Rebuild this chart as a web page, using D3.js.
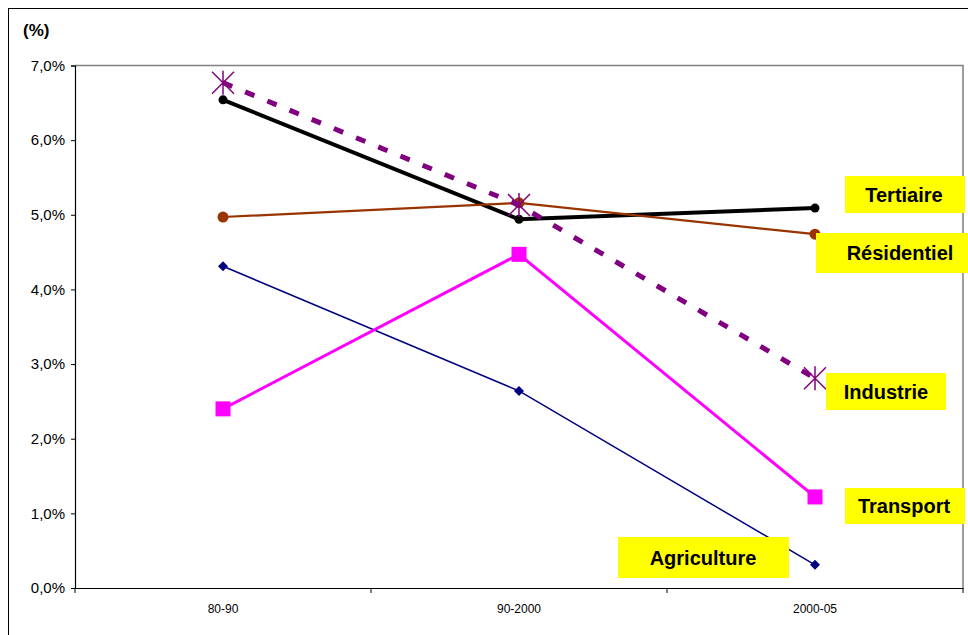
<!DOCTYPE html>
<html><head><meta charset="utf-8">
<script src="https://cdn.jsdelivr.net/npm/d3@7"></script>
<style>body{margin:0;background:#fff}svg{display:block;font-family:"Liberation Sans",Arial,sans-serif}</style>
</head><body>
<svg id="c" width="968" height="635"></svg>
<script>
const categories = ["80-90", "90-2000", "2000-05"];
const yTicks = [0, 1, 2, 3, 4, 5, 6, 7];
const agriculture = [4.31, 2.64, 0.31];
const transport = [2.40, 4.47, 1.22];
const tertiaire = [6.54, 4.94, 5.09];
const residentiel = [4.97, 5.16, 4.74];
const industrie = [6.77, 5.13, 2.81];
const seriesNames = ["Agriculture", "Transport", "Tertiaire", "Résidentiel", "Industrie"];

(function () {
const svg = d3.select("#c");
const pLeft = 75, pRight = 963, pTop = 65.5, pBottom = 588;
const x = d3.scaleBand().domain(categories).range([pLeft, pRight]);
const y = d3.scaleLinear().domain([0, 7]).range([pBottom, pTop]);
const cx = c => x(c) + x.bandwidth() / 2;

// outer frame
svg.append("rect").attr("x", 8.5).attr("y", 8.5).attr("width", 1000).attr("height", 1000)
  .attr("fill", "none").attr("stroke", "#000").attr("stroke-width", 1);

// plot area gray border (top/right)
svg.append("path").attr("d", `M${pLeft},${pTop}H${pRight}V${pBottom}`).attr("fill", "none")
  .attr("stroke", "#808080").attr("stroke-width", 1.5);

// y axis
const yAxis = d3.axisLeft(y).tickValues(yTicks).tickSize(4).tickPadding(6)
  .tickFormat(d => d3.format(".1f")(d).replace(".", ",") + "%");
const gy = svg.append("g").attr("transform", `translate(${pLeft},0)`).call(yAxis);
gy.select(".domain").attr("stroke", "#000").attr("stroke-width", 1.2);
gy.selectAll(".tick line").attr("stroke", "#000");
gy.selectAll("text").attr("font-size", 15).attr("fill", "#000").attr("font-family", "Liberation Sans, Arial, sans-serif");

// x axis
const gx = svg.append("g").attr("transform", `translate(0,${pBottom})`)
  .call(d3.axisBottom(x).tickSize(0).tickPadding(16));
gx.select(".domain").attr("stroke", "#000").attr("stroke-width", 1.2);
gx.selectAll("text").attr("font-size", 12).attr("fill", "#000").attr("font-family", "Liberation Sans, Arial, sans-serif");
const bounds = categories.map(c => x(c)).concat([x(categories[categories.length - 1]) + x.bandwidth()]);
svg.selectAll(".xb").data(bounds).enter().append("line")
  .attr("x1", d => d).attr("x2", d => d).attr("y1", pBottom).attr("y2", pBottom + 5)
  .attr("stroke", "#000").attr("stroke-width", 1);

// title
svg.append("text").attr("x", 23).attr("y", 36).attr("font-size", 17).attr("font-weight", "bold").text("(%)");

const line = d3.line().x((d, i) => cx(categories[i])).y(d => y(d));
const pts = vals => vals.map((v, i) => [cx(categories[i]), y(v)]);

// Agriculture
svg.append("path").datum(agriculture).attr("d", line).attr("fill", "none").attr("stroke", "#000080").attr("stroke-width", 1.5);
svg.selectAll(".ag").data(pts(agriculture)).enter().append("path")
  .attr("d", d => `M${d[0]},${d[1]-5}L${d[0]+5},${d[1]}L${d[0]},${d[1]+5}L${d[0]-5},${d[1]}Z`).attr("fill", "#000080");

// Transport
svg.append("path").datum(transport).attr("d", line).attr("fill", "none").attr("stroke", "#FF00FF").attr("stroke-width", 3);
svg.selectAll(".tr").data(pts(transport)).enter().append("rect")
  .attr("x", d => d[0] - 7.5).attr("y", d => d[1] - 7.5).attr("width", 15).attr("height", 15).attr("fill", "#FF00FF");

// Tertiaire
svg.append("path").datum(tertiaire).attr("d", line).attr("fill", "none").attr("stroke", "#000").attr("stroke-width", 4);
svg.selectAll(".te").data(pts(tertiaire)).enter().append("circle")
  .attr("cx", d => d[0]).attr("cy", d => d[1]).attr("r", 4.5).attr("fill", "#000");

// Résidentiel
svg.append("path").datum(residentiel).attr("d", line).attr("fill", "none").attr("stroke", "#993300").attr("stroke-width", 2.2);
svg.selectAll(".re").data(pts(residentiel)).enter().append("circle")
  .attr("cx", d => d[0]).attr("cy", d => d[1]).attr("r", 5.5).attr("fill", "#993300");

// Industrie
svg.append("path").datum(industrie).attr("d", line).attr("fill", "none").attr("stroke", "#800080")
  .attr("stroke-width", 5).attr("stroke-dasharray", "10,14");
svg.selectAll(".in").data(pts(industrie)).enter().append("path")
  .attr("d", d => `M${d[0]},${d[1]-12}V${d[1]+12}M${d[0]-11},${d[1]-11}L${d[0]+11},${d[1]+11}M${d[0]+11},${d[1]-11}L${d[0]-11},${d[1]+11}`)
  .attr("stroke", "#800080").attr("stroke-width", 1.5).attr("fill", "none");

// labels (yellow boxes)
const labels = [
  {name: "Tertiaire", x0: 845, y0: 176, w: 120, h: 37, tx: 904},
  {name: "Résidentiel", x0: 816, y0: 233, w: 152, h: 40, tx: 900},
  {name: "Industrie", x0: 826, y0: 373, w: 120, h: 37, tx: 886},
  {name: "Transport", x0: 845, y0: 488, w: 120, h: 36, tx: 904},
  {name: "Agriculture", x0: 618, y0: 537, w: 171, h: 41, tx: 703}
];
const lg = svg.selectAll(".lab").data(labels).enter().append("g");
lg.append("rect").attr("x", d => d.x0).attr("y", d => d.y0).attr("width", d => d.w).attr("height", d => d.h).attr("fill", "#FFFF00");
lg.append("text").attr("x", d => d.tx).attr("y", d => d.y0 + d.h / 2 + 7)
  .attr("text-anchor", "middle").attr("font-size", 20).attr("font-weight", "bold").attr("fill", "#000").text(d => d.name);
})();
</script>
</body></html>
